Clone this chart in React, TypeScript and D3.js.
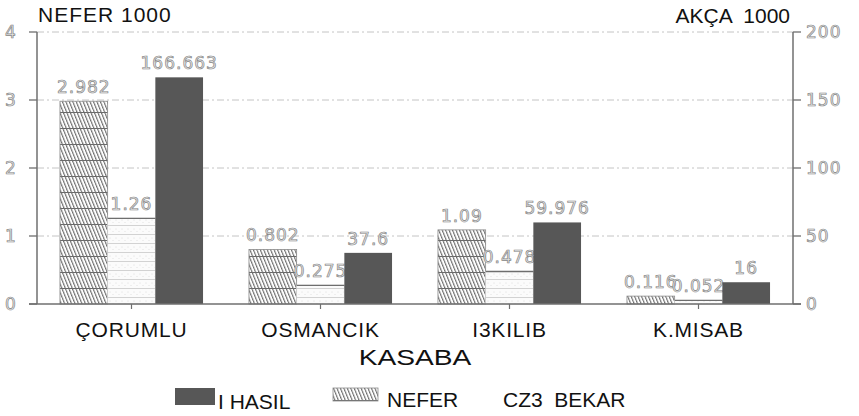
import * as d3 from 'd3';
import React from 'react';

const categories = ['ÇORUMLU', 'OSMANCIK', 'I3KILIB', 'K.MISAB'];
const series = ['nefer', 'bekar', 'hasil'];
const neferValues = [2.982, 0.802, 1.09, 0.116];
const bekarValues = [1.26, 0.275, 0.478, 0.052];
const hasilValues = [166.663, 37.6, 59.976, 16];
const leftTicks = [0, 1, 2, 3, 4];
const rightTicks = [0, 50, 100, 150, 200];
const legendItems = [
  { key: 'hasil', label: 'I HASIL' },
  { key: 'nefer', label: 'NEFER' },
  { key: 'bekar', label: 'CZ3  BEKAR' },
];

const W = 859;
const H = 416;
const left = 37;
const right = 793;
const top = 32;
const bottom = 304;

const numStyle = {
  fontFamily: 'DejaVu Sans',
  fontSize: 17,
  fill: '#e8e8e8',
  stroke: '#858585',
  strokeWidth: 0.7,
  letterSpacing: 1,
};
const titleFont = { fontFamily: 'Liberation Sans, Arial, sans-serif', fill: '#111' };

export default function App() {
  const x = d3
    .scaleBand<string>()
    .domain(categories)
    .range([left, right])
    .paddingInner(0.243)
    .paddingOuter(0.1215);
  const xs = d3.scaleBand<string>().domain(series).range([0, x.bandwidth()]);
  const yL = d3.scaleLinear().domain([0, 4]).range([bottom, top]);
  const yR = d3.scaleLinear().domain([0, 200]).range([bottom, top]);

  const bars = categories.flatMap((c, i) => [
    { c, key: 'nefer', v: neferValues[i], y: yL(neferValues[i]) },
    { c, key: 'bekar', v: bekarValues[i], y: yL(bekarValues[i]) },
    { c, key: 'hasil', v: hasilValues[i], y: yR(hasilValues[i]) },
  ]);

  // nefer bars get two layers: slanted hatch + horizontal bands
  const neferRect = (bx: number, by: number, bw: number, bh: number) => (
    <>
      <rect x={bx} y={by} width={bw} height={bh} fill="url(#hatch)" />
      <rect x={bx} y={by} width={bw} height={bh} fill="url(#bands)" stroke="#8a8a8a" strokeWidth={0.8} />
    </>
  );

  return (
    <svg width={W} height={H} style={{ position: 'absolute', left: 0, top: 0, background: '#fff' }}>
      <defs>
        <pattern id="hatch" patternUnits="userSpaceOnUse" width={3.2} height={10} patternTransform="rotate(-22)">
          <rect width={3.2} height={10} fill="#fff" />
          <line x1={0.6} y1={0} x2={0.6} y2={10} stroke="#5a5a5a" strokeWidth={1} />
        </pattern>
        <pattern id="bands" patternUnits="userSpaceOnUse" width={10} height={16} y={bottom}>
          <line x1={0} y1={0.5} x2={10} y2={0.5} stroke="#6a6a6a" strokeWidth={1} />
        </pattern>
        <pattern id="bekarPat" patternUnits="userSpaceOnUse" width={6} height={9}>
          <rect width={6} height={9} fill="#fbfbfb" />
          <line x1={0} y1={0.5} x2={6} y2={0.5} stroke="#d2d2d2" strokeWidth={1} />
          <circle cx={2} cy={4} r={0.5} fill="#d4d4d4" />
          <circle cx={5} cy={6.5} r={0.5} fill="#dadada" />
        </pattern>
      </defs>

      {/* gridlines */}
      {leftTicks
        .filter(t => t > 0)
        .map(t => (
          <line
            key={`g${t}`}
            x1={left}
            x2={right}
            y1={yL(t)}
            y2={yL(t)}
            stroke="#c4c4c4"
            strokeWidth={1}
            strokeDasharray="7,3,2,3"
          />
        ))}

      {/* bars */}
      {bars.map(b => {
        const bx = (x(b.c) ?? 0) + (xs(b.key) ?? 0);
        const bw = xs.bandwidth();
        const bh = bottom - b.y;
        return (
          <g key={`${b.c}-${b.key}`}>
            {b.key === 'nefer' && neferRect(bx, b.y, bw, bh)}
            {b.key === 'bekar' && (
              <>
                <rect x={bx} y={b.y} width={bw} height={bh} fill="url(#bekarPat)" stroke="#d0d0d0" strokeWidth={0.8} />
                <line x1={bx} x2={bx + bw} y1={b.y} y2={b.y} stroke="#6e6e6e" strokeWidth={1.3} />
              </>
            )}
            {b.key === 'hasil' && <rect x={bx} y={b.y} width={bw} height={bh} fill="#575757" />}
            <text x={bx + bw / 2} y={b.y - 8} textAnchor="middle" style={numStyle}>
              {String(b.v)}
            </text>
          </g>
        );
      })}

      {/* axes */}
      <line x1={left} x2={left} y1={top} y2={bottom} stroke="#6f6f6f" strokeWidth={1.5} />
      <line x1={right} x2={right} y1={top} y2={bottom} stroke="#6f6f6f" strokeWidth={1.5} />
      <line x1={left - 8} x2={right + 8} y1={bottom} y2={bottom} stroke="#6f6f6f" strokeWidth={1.5} />
      {leftTicks.map(t => (
        <g key={`l${t}`}>
          <line x1={left - 8} x2={left} y1={yL(t)} y2={yL(t)} stroke="#6f6f6f" strokeWidth={1.3} />
          <text x={11} y={yL(t) + 6} textAnchor="middle" style={numStyle}>
            {t}
          </text>
        </g>
      ))}
      {rightTicks.map(t => (
        <g key={`r${t}`}>
          <line x1={right} x2={right + 8} y1={yR(t)} y2={yR(t)} stroke="#6f6f6f" strokeWidth={1.3} />
          <text x={806} y={yR(t) + 6} textAnchor="start" style={numStyle}>
            {t}
          </text>
        </g>
      ))}
      {categories.map(c => {
        const cx = (x(c) ?? 0) + x.bandwidth() / 2;
        return (
          <g key={`c${c}`}>
            <line x1={cx} x2={cx} y1={bottom} y2={bottom + 5} stroke="#6f6f6f" strokeWidth={1.2} />
            <text x={cx} y={337} textAnchor="middle" fontSize={21} letterSpacing={0.8} style={titleFont}>
              {c}
            </text>
          </g>
        );
      })}

      {/* titles */}
      <text x={38} y={22} fontSize={21} letterSpacing={1} style={titleFont}>
        NEFER 1000
      </text>
      <text x={790} y={23} fontSize={21} textAnchor="end" style={{ ...titleFont, whiteSpace: 'pre' }}>
        AKÇA  1000
      </text>
      <text
        transform="translate(415,365) scale(1.28,1)"
        fontSize={22}
        textAnchor="middle"
        style={titleFont}
      >
        KASABA
      </text>

      {/* legend */}
      {legendItems.map((it, i) => {
        const sx = [175, 333, 0][i];
        const tx = [218, 387, 503][i];
        return (
          <g key={it.key}>
            {it.key === 'hasil' && <rect x={sx} y={388} width={40} height={17} fill="#575757" />}
            {it.key === 'nefer' && neferRect(sx, 388, 45, 13)}
            <text x={tx} y={i === 0 ? 409 : 407} fontSize={21} style={{ ...titleFont, whiteSpace: 'pre' }}>
              {it.label}
            </text>
          </g>
        );
      })}
    </svg>
  );
}
